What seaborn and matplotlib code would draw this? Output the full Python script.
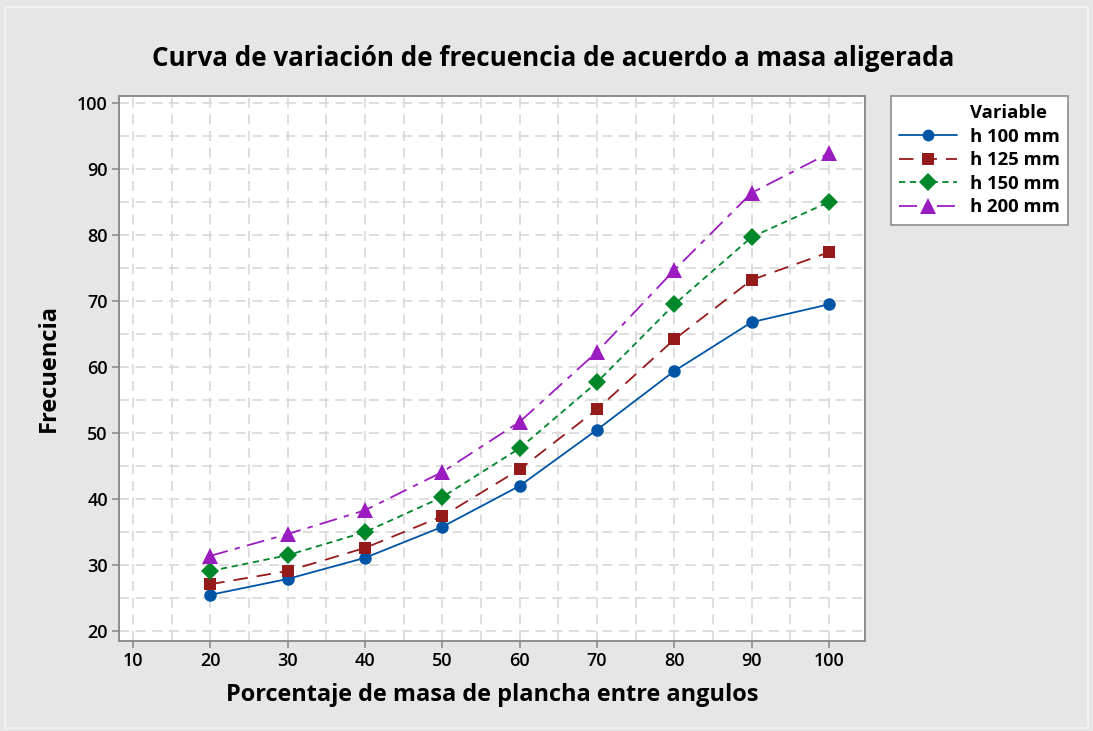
import numpy as np
import pandas as pd
import seaborn as sns
import matplotlib.pyplot as plt
from matplotlib.patches import Rectangle
from matplotlib.ticker import MultipleLocator

# data
porcentaje = [20, 30, 40, 50, 60, 70, 80, 90, 100]
h100 = [25.5, 27.9, 31.1, 35.8, 42.0, 50.5, 59.4, 66.8, 69.5]
h125 = [27.1, 29.1, 32.6, 37.4, 44.5, 53.6, 64.2, 73.2, 77.4]
h150 = [29.1, 31.5, 35.0, 40.3, 47.7, 57.7, 69.5, 79.7, 85.0]
h200 = [31.4, 34.7, 38.3, 44.1, 51.7, 62.3, 74.7, 86.4, 92.4]
series_names = ["h 100 mm", "h 125 mm", "h 150 mm", "h 200 mm"]

df = pd.DataFrame({
    "x": porcentaje * 4,
    "y": h100 + h125 + h150 + h200,
    "Variable": np.repeat(series_names, len(porcentaje)),
})

colores = dict(zip(series_names, ["#0054a6", "#951a1a", "#00872a", "#9b1cbf"]))
marcas = dict(zip(series_names, ["o", "s", "D", "^"]))
trazos = dict(zip(series_names, ["", (8, 5), (3.5, 2.5), (10, 4, 3, 4)]))
tam = {"o": 9, "s": 8.5, "D": 9.5, "^": 12}

sns.set_style("white")
plt.rcParams['font.family'] = ['Open Sans', 'DejaVu Sans']
plt.rcParams['text.color'] = 'black'
plt.rcParams['axes.labelcolor'] = 'black'
plt.rcParams['xtick.color'] = 'black'
plt.rcParams['ytick.color'] = 'black'

fig = plt.figure(figsize=(10.93, 7.31), dpi=100)
fig.patch.set_facecolor("#e6e6e6")
fig.add_artist(Rectangle((5 / 1093, 3 / 731), 1083 / 1093, 721 / 731, transform=fig.transFigure,
                         fill=False, edgecolor="#f4f4f4", lw=1.2))
ax = fig.add_axes([119 / 1093, 1 - 641 / 731, 746 / 1093, 545 / 731])
ax.set_facecolor("white")

sns.lineplot(data=df, x="x", y="y", hue="Variable", style="Variable", palette=colores,
             markers=marcas, dashes=trazos, markersize=9, linewidth=1.3,
             markeredgewidth=0, ax=ax, legend=False, zorder=3)
for ln in ax.lines:
    m = ln.get_marker()
    if m in tam:
        ln.set_markersize(tam[m])

ax.set_xlim(8.19, 104.65)
ax.set_ylim(18.5, 101.06)
ax.xaxis.set_major_locator(MultipleLocator(10))
ax.xaxis.set_minor_locator(MultipleLocator(5))
ax.yaxis.set_major_locator(MultipleLocator(10))
ax.yaxis.set_minor_locator(MultipleLocator(5))
ax.grid(True, which="both", color="#d8d8d8", linestyle=(0, (6, 4)), linewidth=1.2, zorder=0)
ax.set_axisbelow(True)
ax.tick_params(axis="both", which="major", direction="out", length=5, width=1.2,
               color="#8c8c8c", labelsize=13, pad=3, bottom=True, left=True)
ax.tick_params(axis="both", which="minor", length=0)
for lab in ax.get_xticklabels() + ax.get_yticklabels():
    lab.set_fontweight("semibold")
for s in ax.spines.values():
    s.set_color("#8c8c8c")
    s.set_linewidth(1.4)

ax.set_xlabel("Porcentaje de masa de plancha entre angulos", fontsize=16.9, fontweight="bold", labelpad=9)
ax.set_ylabel("Frecuencia", fontsize=17, fontweight="bold", labelpad=12)
fig.text(553 / 1093, 1 - 58 / 731, "Curva de variación de frecuencia de acuerdo a masa aligerada",
         ha="center", va="center", fontsize=18.7, fontweight="bold")

# legend: first row is the "Variable" header, aligned with the labels
handles = [plt.Line2D([], [], alpha=0)]
handles += [plt.Line2D([], [], color=colores[n], marker=marcas[n],
                       linestyle=(0, trazos[n]) if trazos[n] else "-",
                       markersize=tam[marcas[n]] - 0.5, markeredgewidth=0, lw=1.3)
            for n in series_names]
leg = fig.legend(handles, ["Variable"] + series_names, loc="upper left",
                 bbox_to_anchor=(891 / 1093, 1 - 96 / 731), borderaxespad=0,
                 frameon=True, fancybox=False,
                 prop={"size": 13.3, "weight": "bold"},
                 handlelength=3.1, borderpad=0.45, labelspacing=0.3, handletextpad=0.7,
                 framealpha=1)
leg.get_frame().set_edgecolor("#8c8c8c")
leg.get_frame().set_facecolor("white")
leg.get_frame().set_linewidth(1.2)

fig.savefig("out.png", dpi=100, facecolor=fig.get_facecolor())
